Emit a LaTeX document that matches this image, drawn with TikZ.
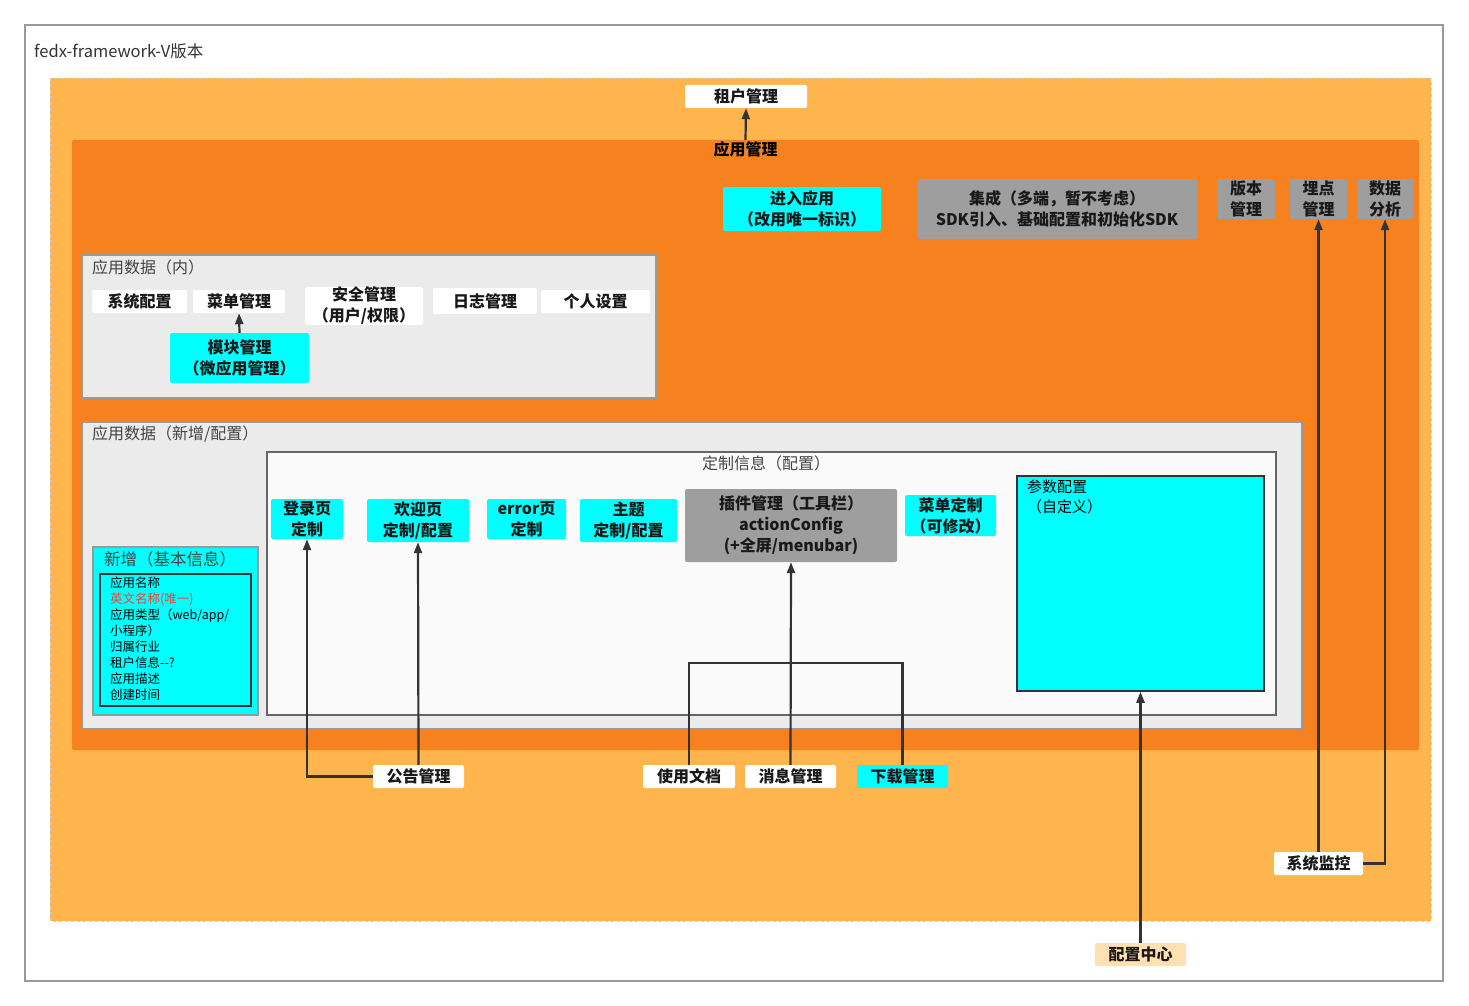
\documentclass[tikz,border=0pt]{standalone}
\usepackage{fontspec}
\setmainfont{Noto Sans CJK SC}
\usetikzlibrary{arrows.meta}

\definecolor{frameGray}{HTML}{9A9A9A}
\definecolor{dashGray}{HTML}{CFCFCF}
\definecolor{lightOrange}{HTML}{FFB54D}
\definecolor{darkOrange}{HTML}{F5821F}
\definecolor{panelGray}{HTML}{EBEBEB}
\definecolor{borderGray}{HTML}{9A9A9A}
\definecolor{sheetWhite}{HTML}{FAFAFA}
\definecolor{sheetBorder}{HTML}{666666}
\definecolor{cyanBox}{HTML}{00FFFF}
\definecolor{grayBox}{HTML}{9E9E9E}
\definecolor{peachBox}{HTML}{FFE0B2}
\definecolor{lineGray}{HTML}{333333}
\definecolor{titleGray}{HTML}{444444}
\definecolor{alertRed}{HTML}{FF3B30}

\tikzset{
  wh/.style 2 args={minimum width=#1pt, minimum height=#2pt},
  box/.style={rounded corners=2pt, inner sep=0pt, align=center,
    font=\bfseries\fontsize{16}{21}\selectfont, text=black!90},
  wbox/.style={box, fill=white},
  cbox/.style={box, fill=cyanBox},
  gbox/.style={box, fill=grayBox},
  pbox/.style={box, fill=peachBox},
  link/.style={draw=lineGray, line width=2.2pt},
  arr/.style={link, -{Triangle[length=11pt,width=8pt]}},
  panel/.style={fill=panelGray, draw=borderGray, line width=1.5pt},
  ptitle/.style={anchor=west, inner sep=0pt, text=titleGray,
    font=\fontsize{16}{20}\selectfont}
}

\begin{document}
\begin{tikzpicture}[x=1pt,y=-1pt]
  \useasboundingbox (0,0) rectangle (1469,1006);
  \draw[frameGray, line width=1.2pt] (25,25) rectangle (1443,981);
  \node[anchor=west, inner sep=0pt, text=black!80, font=\fontsize{16.5}{18}\selectfont] (title) at (34,51) {fedx-framework-V版本};

  \draw[fill=lightOrange, draw=dashGray, dashed] (50,78) rectangle (1431,921);
  \node[fill=darkOrange, rounded corners=2pt, wh={1347}{610}] (app) at (745.5,445) {};
  \node[anchor=north, inner sep=0pt, font=\bfseries\fontsize{16}{18}\selectfont] (appname) at (745.5,141) {应用管理};

  \node[wbox, wh={122}{23}] (tenant) at (746,96.5) {租户管理};
  \node[cbox, wh={158}{44}] (enter) at (802,209) {进入应用\\（改用唯一标识）};
  \node[gbox, wh={280}{60}] (sdk) at (1057,209) {集成（多端，暂不考虑）\\SDK引入、基础配置和初始化SDK};
  \node[gbox, wh={58}{40}] (version) at (1246,199) {版本\\管理};
  \node[gbox, wh={57}{40}] (track) at (1318.5,199) {埋点\\管理};
  \node[gbox, wh={56}{40}] (analysis) at (1385,199) {数据\\分析};

  \draw[panel] (82,255) rectangle (656,398);
  \node[ptitle] (innertitle) at (92,267) {应用数据（内）};
  \node[wbox, wh={95}{23}] (sysconf) at (139.5,301.5) {系统配置};
  \node[wbox, wh={92}{23}] (menu) at (239,301.5) {菜单管理};
  \node[wbox, wh={118}{36}] (security) at (364,306) {安全管理\\（用户/权限）};
  \node[wbox, wh={104}{26}] (log) at (485,301) {日志管理};
  \node[wbox, wh={109}{23}] (profile) at (595.5,301.5) {个人设置};
  \node[cbox, wh={139}{50}] (module) at (239.5,358) {模块管理\\（微应用管理）};

  \draw[panel] (82,422) rectangle (1302,729);
  \node[ptitle] (newtitle) at (92,434) {应用数据（新增/配置）};
  \draw[fill=sheetWhite, draw=sheetBorder, line width=1.5pt] (267,452) rectangle (1276,715);
  \node[inner sep=0pt, text=titleGray, font=\fontsize{16}{20}\selectfont] (customtitle) at (766,463) {定制信息（配置）};

  \node[cbox, wh={72}{40}] (login) at (307,519) {登录页\\定制};
  \node[cbox, wh={102}{43}] (welcome) at (418,520.5) {欢迎页\\定制/配置};
  \node[cbox, wh={79}{40}] (error) at (526.5,519) {error页\\定制};
  \node[cbox, wh={97}{43}] (theme) at (628.5,520.5) {主题\\定制/配置};
  \node[gbox, wh={212}{73}] (plugin) at (791,525.5) {插件管理（工具栏）\\actionConfig\\(+全屏/menubar)};
  \node[cbox, wh={91}{41}] (menucustom) at (950.5,515.5) {菜单定制\\（可修改）};
  \node[fill=cyanBox, draw=lineGray, line width=1.5pt, wh={247}{215}] (param) at (1140.5,583.5) {};
  \node[anchor=north west, inner sep=0pt, align=left, font=\fontsize{15}{20}\selectfont] (paramtext) at (1027,480) {参数配置\\（自定义）};

  \draw[fill=cyanBox, draw=borderGray, line width=1.5pt] (93,547) rectangle (258,715);
  \node[anchor=west, inner sep=0pt, text=titleGray, font=\fontsize{16.5}{20}\selectfont] (basetitle) at (104,559) {新增（基本信息）};
  \draw[draw=lineGray, line width=1.5pt] (100,574) rectangle (251,706);
  \node[anchor=north west, inner sep=0pt, align=left, font=\fontsize{12.5}{16}\selectfont] (baseinfo) at (110,577)
    {应用名称\\\textcolor{alertRed}{英文名称(唯一)}\\应用类型（web/app/\\小程序）\\归属行业\\租户信息{-}{-}?\\应用描述\\创建时间};

  \node[wbox, wh={91}{23}] (notice) at (418.5,776.5) {公告管理};
  \node[wbox, wh={92}{23}] (doc) at (689,776.5) {使用文档};
  \node[wbox, wh={91}{23}] (msg) at (790.5,776.5) {消息管理};
  \node[cbox, wh={91}{23}] (download) at (902.5,776.5) {下载管理};
  \node[wbox, wh={89}{23}] (monitor) at (1318.5,863.5) {系统监控};
  \node[pbox, wh={91}{23}] (config) at (1140.5,954.5) {配置中心};
  \coordinate (hub) at (791,663);

  \draw[arr] (app.north) -- (tenant.south);
  \draw[arr] (module.north) -- (menu.south);
  \draw[arr] (notice.west) -| (login.south);
  \draw[arr] (notice.north) -- (welcome.south);
  \draw[link] (doc.north) |- (hub) -| (download.north);
  \draw[arr] (msg.north) -- (plugin.south);
  \draw[arr] (monitor.north) -- (track.south);
  \draw[arr] (monitor.east) -| (analysis.south);
  \draw[arr] (config.north) -- (param.south);
\end{tikzpicture}
\end{document}
